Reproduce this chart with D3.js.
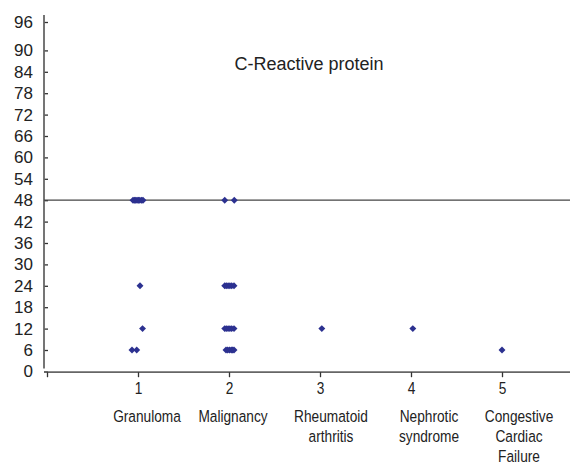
<!DOCTYPE html>
<html>
<head>
<meta charset="utf-8">
<script src="https://cdn.jsdelivr.net/npm/d3@7"></script>
<style>
  body { margin: 0; background: #fff; }
  text { font-family: "Liberation Sans", Arial, sans-serif; fill: #222; }
</style>
</head>
<body>
<div id="chart"></div>
<script>
// categories on the x axis
let categories = [
  ["Granuloma"],
  ["Malignancy"],
  ["Rheumatoid", "arthritis"],
  ["Nephrotic", "syndrome"],
  ["Congestive", "Cardiac", "Failure"]
];
let categoryNums = [1, 2, 3, 4, 5];

// y tick labels
let yTicks = [0, 6, 12, 18, 24, 30, 36, 42, 48, 54, 60, 66, 72, 78, 84, 90, 96];

// C-reactive protein points (x is category number, jittered)
let pointX = [
  0.945, 0.96, 0.975, 0.99, 1.005, 1.02, 1.04, 1.055,
  1.022, 1.05, 0.934, 0.986,
  1.953, 2.058,
  1.953, 1.97, 1.99, 2.01, 2.03, 2.055,
  1.953, 1.97, 1.99, 2.01, 2.03, 2.055,
  1.967, 1.985, 2.005, 2.025, 2.04, 2.055,
  3.02, 4.02, 5.0
];
let pointY = [
  48, 48, 48, 48, 48, 48, 48, 48,
  24, 12, 6, 6,
  48, 48,
  24, 24, 24, 24, 24, 24,
  12, 12, 12, 12, 12, 12,
  6, 6, 6, 6, 6, 6,
  12, 12, 6
];
let refLine = 48;

let width = 580;
let height = 466;

let svg = d3
  .select("#chart")
  .append("svg")
  .attr("width", width)
  .attr("height", height);

let axisLeftX = 44;
let axisRightX = 570;
// the reference uses a condensed face, squeeze plain Liberation Sans
let narrow = 0.83;

// scales
let xScale = d3.scaleLinear().domain([0, 5]).range([47, 502]);
let yScale = d3.scaleLinear().domain([0, 90, 96]).range([371.4, 50.4, 22]);

// y axis
let yAxis = d3
  .axisLeft(yScale)
  .tickValues(yTicks)
  .tickSize(-4)
  .tickPadding(11)
  .tickFormat(d3.format("d"));

let yG = svg
  .append("g")
  .attr("transform", `translate(${axisLeftX},0)`)
  .call(yAxis);
yG.select(".domain").remove();
yG.selectAll(".tick line").attr("stroke", "#333").attr("stroke-width", 1.3);
yG.selectAll(".tick text")
  .attr("font-size", "17px")
  .attr("font-family", "'Liberation Sans', Arial, sans-serif")
  .attr("fill", "#222");

svg
  .append("line")
  .attr("x1", axisLeftX)
  .attr("x2", axisLeftX)
  .attr("y1", 15)
  .attr("y2", yScale(0) - 3)
  .attr("stroke", "#666")
  .attr("stroke-width", 1.8);

// x axis
let xAxisY = yScale(0) + 0.8;
svg
  .append("line")
  .attr("x1", axisLeftX)
  .attr("x2", axisRightX)
  .attr("y1", xAxisY)
  .attr("y2", xAxisY)
  .attr("stroke", "#666")
  .attr("stroke-width", 1.8);

let xAxis = d3
  .axisBottom(xScale)
  .tickValues([0].concat(categoryNums))
  .tickSize(5)
  .tickPadding(5)
  .tickFormat(d => (d === 0 ? "" : d));

let xG = svg
  .append("g")
  .attr("transform", `translate(0,${xAxisY})`)
  .call(xAxis);
xG.select(".domain").remove();
xG.selectAll(".tick line").attr("stroke", "#333").attr("stroke-width", 1.3);
xG.selectAll(".tick text")
  .attr("font-size", "16.5px")
  .attr("font-family", "'Liberation Sans', Arial, sans-serif")
  .attr("fill", "#222")
  .attr("transform", `scale(${narrow},1)`);

// category names (they sit a little right of their ticks in the original)
let labelNudge = [9, 4, 11, 18, 17];
let catG = svg.append("g");
categories.forEach(function(lines, i) {
  let t = catG
    .append("text")
    .attr("text-anchor", "middle")
    .attr("font-size", "16.5px")
    .attr(
      "transform",
      `translate(${xScale(categoryNums[i]) + labelNudge[i]},0) scale(${narrow},1)`
    );
  lines.forEach(function(line, j) {
    t.append("tspan")
      .attr("x", 0)
      .attr("y", xAxisY + 49.5 + j * 20)
      .text(line);
  });
});

// reference line at 48
svg
  .append("line")
  .attr("x1", axisLeftX)
  .attr("x2", axisRightX)
  .attr("y1", yScale(refLine))
  .attr("y2", yScale(refLine))
  .attr("stroke", "#444")
  .attr("stroke-width", 1.3);

// points
let diamond = d3.symbol().type(d3.symbolSquare).size(24);
svg
  .append("g")
  .selectAll("path")
  .data(pointX.map((x, i) => [x, pointY[i]]))
  .enter()
  .append("path")
  .attr("d", diamond)
  .attr("transform", d => `translate(${xScale(d[0])},${yScale(d[1])}) rotate(45)`)
  .attr("fill", "#2c3190");

// title
svg
  .append("text")
  .attr("x", 309)
  .attr("y", 70)
  .attr("text-anchor", "middle")
  .attr("font-size", "18px")
  .text("C-Reactive protein");
</script>
</body>
</html>
